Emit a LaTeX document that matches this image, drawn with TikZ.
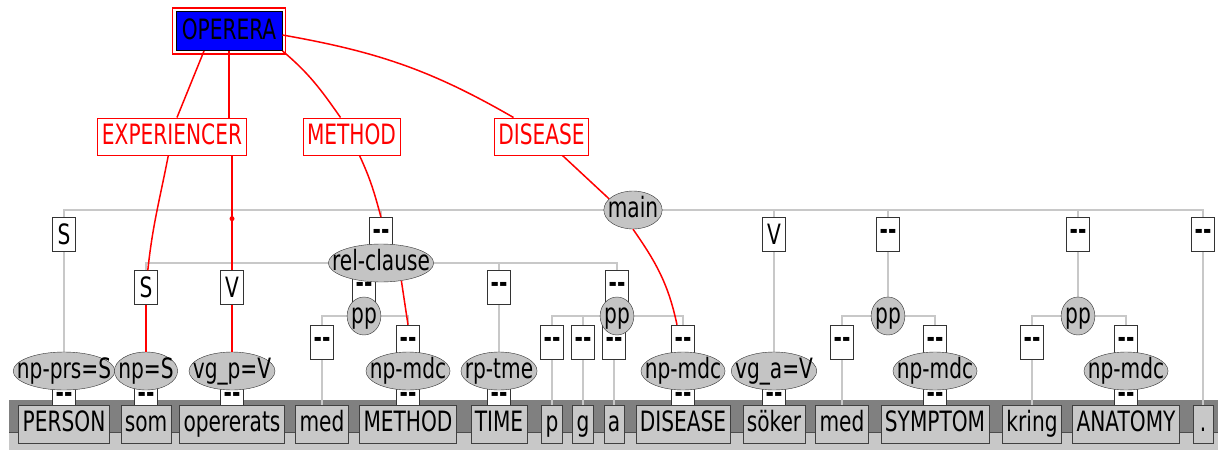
\documentclass[tikz,border=0pt]{standalone}
\usepackage{fontspec}
\setmainfont{DejaVu Sans}[FakeStretch=0.72]
\usetikzlibrary{shapes.geometric,backgrounds}
\definecolor{treegray}{RGB}{200,200,200}
\definecolor{banddark}{RGB}{128,128,128}
\definecolor{bandlight}{RGB}{200,200,200}
\definecolor{nodegray}{RGB}{196,196,196}
\newcommand{\narrow}[1]{\makebox[0.7\width]{#1}}
\newcommand{\nolab}{\textbf{-{}-}}
\begin{document}
\begin{tikzpicture}[
        x=1pt, y=1pt,
        font=\fontsize{28}{30}\selectfont,
        tree/.style = {draw=treegray, line width=1.6pt}, % серые линии дерева
        rel/.style = {draw=red, line width=1.5pt}, % красные связи
        word/.style={draw=black!75, fill=bandlight, minimum height=38pt, minimum width=20pt, inner xsep=4pt, inner ysep=0pt, text height=21pt, text depth=6pt},
        lab/.style={draw=black!80, fill=white, minimum width=23pt, minimum height=34pt, inner sep=0pt},
        phrase/.style={ellipse, draw=black!80, fill=nodegray, minimum height=38pt, inner xsep=3pt, inner ysep=0pt, text height=17pt, text depth=3pt},
        role/.style={draw=red, text=red, fill=white, line width=1pt, minimum height=37pt, inner xsep=4pt, inner ysep=0pt, text height=21pt, text depth=5pt},
        head/.style={draw=black, fill=blue, line width=1pt, minimum width=106pt, minimum height=39pt, inner sep=0pt, text height=21pt, text depth=5pt},
        reddot/.style={circle, fill=red, inner sep=0pt, minimum size=5pt},
    ]
    \useasboundingbox (0,0) rectangle (1218,-450);

    % метки под словами
    \node[lab] (d1) at (64,-397) {\nolab};
    \node[lab] (d2) at (146,-397) {\nolab};
    \node[lab] (d3) at (232,-397) {\nolab};
    \node[lab] (d5) at (408,-397) {\nolab};
    \node[lab] (d6) at (499,-397) {\nolab};
    \node[lab] (d10) at (683,-397) {\nolab};
    \node[lab] (d11) at (774,-397) {\nolab};
    \node[lab] (d13) at (935,-397) {\nolab};
    \node[lab] (d15) at (1126,-397) {\nolab};

    % третий уровень
    \node[lab] (c4) at (322,-342) {\nolab};
    \node[lab] (c5) at (408,-342) {\nolab};
    \node[lab] (c7) at (552,-342) {\nolab};
    \node[lab] (c8) at (583,-342) {\nolab};
    \node[lab] (c9) at (614,-342) {\nolab};
    \node[lab] (c10) at (683,-342) {\nolab};
    \node[lab] (c12) at (842,-342) {\nolab};
    \node[lab] (c13) at (935,-342) {\nolab};
    \node[lab] (c14) at (1032,-342) {\nolab};
    \node[lab] (c15) at (1126,-342) {\nolab};

    % второй уровень
    \node[lab] (s2) at (146,-287.5) {S};
    \node[lab] (v2) at (232,-287.5) {V};
    \node[lab] (bpp1) at (364,-287.5) {\nolab};
    \node[lab] (btme) at (499,-287.5) {\nolab};
    \node[lab] (bpp2) at (617,-287.5) {\nolab};

    % первый уровень
    \node[lab] (s1) at (64,-234.5) {S};
    \node[lab] (brc) at (381,-234.5) {\nolab};
    \node[lab] (v1) at (774,-234.5) {V};
    \node[lab] (bpp3) at (888,-234.5) {\nolab};
    \node[lab] (bpp4) at (1078,-234.5) {\nolab};
    \node[lab] (bend) at (1203,-234.5) {\nolab};

    % фразы
    \node[phrase] (main) at (633,-210) {\narrow{main}};
    \node[phrase] (relcl) at (381,-263) {\narrow{rel-clause}};
    \node[phrase] (pp1) at (364,-316) {\narrow{pp}};
    \node[phrase] (pp2) at (617,-316) {\narrow{pp}};
    \node[phrase] (pp3) at (888,-316) {\narrow{pp}};
    \node[phrase] (pp4) at (1078,-316) {\narrow{pp}};
    \node[phrase] (np1) at (64,-371) {\narrow{np-prs=S}};
    \node[phrase] (np2) at (146,-371) {\narrow{np=S}};
    \node[phrase] (np3) at (232,-371) {\narrow{vg\_p=V}};
    \node[phrase] (np5) at (408,-371) {\narrow{np-mdc}};
    \node[phrase] (np6) at (499,-371) {\narrow{rp-tme}};
    \node[phrase] (np10) at (683,-371) {\narrow{np-mdc}};
    \node[phrase] (np11) at (774,-371) {\narrow{vg\_a=V}};
    \node[phrase] (np13) at (935,-371) {\narrow{np-mdc}};
    \node[phrase] (np15) at (1126,-371) {\narrow{np-mdc}};

    % слова
    \node[word] (w1) at (64,-424) {PERSON};
    \node[word] (w2) at (146,-424) {som};
    \node[word] (w3) at (232,-424) {opererats};
    \node[word] (w4) at (322,-424) {med};
    \node[word] (w5) at (408,-424) {METHOD};
    \node[word] (w6) at (499,-424) {TIME};
    \node[word] (w7) at (552,-424) {p};
    \node[word] (w8) at (583,-424) {g};
    \node[word] (w9) at (614,-424) {a};
    \node[word] (w10) at (683,-424) {DISEASE};
    \node[word] (w11) at (774,-424) {söker};
    \node[word] (w12) at (842,-424) {med};
    \node[word] (w13) at (935,-424) {SYMPTOM};
    \node[word] (w14) at (1032,-424) {kring};
    \node[word] (w15) at (1126,-424) {ANATOMY};
    \node[word] (w16) at (1203,-424) {.};

    % роли
    \node[head] (operera) at (229,-31) {OPERERA};
    \draw[red, line width=1.5pt] ([shift={(-3pt,3pt)}]operera.north west) rectangle ([shift={(3pt,-3pt)}]operera.south east);
    \node[role] (experiencer) at (172,-136.5) {EXPERIENCER};
    \node[role] (method) at (351.5,-136.5) {METHOD};
    \node[role] (disease) at (541.5,-136.5) {DISEASE};

    \begin{scope}[on background layer]
        \fill[banddark] (9,-400) rectangle (1218,-432);
        \fill[bandlight] (9,-432) rectangle (1218,-450);
        \draw[black!70, line width=1pt] (9,-432) -- (1218,-432);
        \draw[tree] (main.center) -| (s1);
        \draw[tree] (main.center) -| (brc);
        \draw[tree] (main.center) -| (v1);
        \draw[tree] (main.center) -| (bpp3);
        \draw[tree] (main.center) -| (bpp4);
        \draw[tree] (main.center) -| (bend);
        \draw[tree] (s1) -- (np1);
        \draw[tree] (v1) -- (np11);
        \draw[tree] (bpp3) -- (pp3);
        \draw[tree] (bpp4) -- (pp4);
        \draw[tree] (bend) -- (w16);
        \draw[tree] (relcl.center) -| (s2);
        \draw[tree] (relcl.center) -| (v2);
        \draw[tree] (relcl.center) -| (bpp1);
        \draw[tree] (relcl.center) -| (btme);
        \draw[tree] (relcl.center) -| (bpp2);
        \draw[tree] (s2) -- (np2);
        \draw[tree] (v2) -- (np3);
        \draw[tree] (btme) -- (np6);
        \draw[tree] (pp1.center) -| (c4);
        \draw[tree] (pp1.center) -| (c5);
        \draw[tree] (c4) -- (w4);
        \draw[tree] (pp2.center) -| (c7);
        \draw[tree] (pp2.center) -| (c8);
        \draw[tree] (pp2.center) -| (c9);
        \draw[tree] (pp2.center) -| (c10);
        \draw[tree] (c7) -- (w7);
        \draw[tree] (c8) -- (w8);
        \draw[tree] (c9) -- (w9);
        \draw[tree] (pp3.center) -| (c12);
        \draw[tree] (pp3.center) -| (c13);
        \draw[tree] (c12) -- (w12);
        \draw[tree] (pp4.center) -| (c14);
        \draw[tree] (pp4.center) -| (c15);
        \draw[tree] (c14) -- (w14);
    \end{scope}

    % красные связи
    \draw[rel] ([xshift=-25pt]operera.south) -- ([xshift=5pt]experiencer.north);
    \draw[rel] (experiencer) to[out=259, in=84] (s2);
    \draw[rel] (s2) -- (np2);
    \draw[rel] (operera.south) -- (operera.south |- experiencer.north);
    \draw[rel] (experiencer.south -| v2) -- node[reddot, pos=0.55] {} (v2);
    \draw[rel] (v2) -- (np3);
    \draw[rel] (operera.south east) to[out=-40, in=125] ([xshift=-11pt]method.north);
    \draw[rel] ([xshift=8pt]method.south) to[out=-65, in=105] (brc.north);
    \draw[rel] (relcl.-41) -- (c5.north);
    \draw[rel] ([yshift=-4pt]operera.east) to[out=-10, in=150] ([xshift=-28pt]disease.north);
    \draw[rel] ([xshift=21pt]disease.south) -- (main.155);
    \draw[rel] (main.south) to[out=-55, in=102] ([xshift=-6pt]c10.north);
\end{tikzpicture}
\end{document}
